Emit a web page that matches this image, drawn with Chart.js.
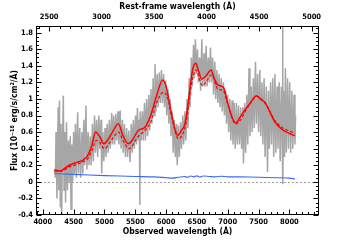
<!DOCTYPE html>
<html><head><meta charset="utf-8">
<script src="https://cdn.jsdelivr.net/npm/chart.js@4"></script>
<style>html,body{margin:0;padding:0;background:#fff}canvas{display:block}</style>
</head><body>
<canvas id="c" width="355" height="240"></canvas>
<script>
// ---- data ----
const obsTicks = [4000,4500,5000,5500,6000,6500,7000,7500,8000];
const restTicks = [2500,3000,3500,4000,4500,5000];
const fluxTicks = [-0.4,-0.2,0,0.2,0.4,0.6,0.8,1,1.2,1.4,1.6,1.8];
const fluxTickLabels = ['-0.4','-0.2','0','0.2','0.4','0.6','0.8','1','1.2','1.4','1.6','1.8'];

const grayWave = [4190,4205,4215,4230,4250,4260,4270,4285,4295,4307,4320,4333,4345,4358,4370,4385,4400,4415,4430,4445,4458,4472,4485,4500,4515,4530,4545,4566,4580,4600,4615,4635,4650,4665,4680,4700,4715,4735,4750,4770,4785,4805,4820,4840,4855,4875,4890,4910,4925,4945,4955,4975,4990,5010,5025,5045,5060,5080,5095,5118,5130,5150,5165,5185,5200,5220,5235,5255,5270,5290,5305,5325,5340,5360,5375,5395,5415,5435,5450,5470,5485,5505,5520,5535,5550,5565,5575,5580,5595,5615,5630,5650,5665,5685,5700,5720,5735,5755,5770,5790,5805,5820,5835,5855,5870,5890,5905,5925,5940,5960,5975,5995,6010,6030,6045,6065,6080,6100,6115,6135,6150,6170,6180,6200,6215,6235,6250,6270,6285,6305,6320,6340,6355,6375,6390,6410,6425,6445,6460,6475,6490,6510,6525,6545,6560,6580,6595,6615,6630,6650,6665,6685,6700,6720,6735,6755,6770,6790,6805,6825,6840,6860,6875,6895,6910,6930,6945,6965,6980,7000,7015,7035,7050,7070,7085,7105,7120,7140,7155,7175,7190,7210,7225,7245,7255,7275,7290,7310,7325,7345,7360,7380,7395,7415,7430,7450,7465,7485,7500,7520,7535,7555,7570,7590,7605,7625,7645,7660,7675,7695,7710,7730,7745,7765,7780,7800,7815,7835,7850,7870,7885,7890,7895,7905,7920,7935,7950,7970,7985,8005,8020,8040,8055,8075,8090,8100];
const grayFlux = [0.15,0.05,0.6,-0.2,0.9,-0.1,0.98,-0.3,0.7,-0.39,0.5,1.04,-0.1,0.6,-0.25,0.72,-0.1,0.5,0.0,0.55,-0.33,0.45,0.0,0.6,0.1,0.7,0.05,0.84,0.1,0.65,0.05,0.6,0.1,0.75,0.2,0.92,0.15,0.6,0.2,0.55,0.2,0.7,0.25,0.8,0.35,0.75,0.3,0.8,0.4,0.75,0.1,0.6,0.25,0.65,0.3,0.7,0.35,0.75,0.4,0.83,0.45,0.8,0.45,0.82,0.5,0.85,0.45,0.86,0.4,0.75,0.35,0.7,0.3,0.65,0.3,0.62,0.24,0.7,0.35,0.75,0.4,0.8,0.45,0.89,0.5,0.75,-0.28,0.85,0.5,0.85,0.5,0.95,0.5,1.0,0.55,1.05,0.62,1.12,0.7,1.25,0.8,1.42,0.85,1.3,0.9,1.32,0.95,1.35,0.95,1.3,0.9,1.22,0.8,1.12,0.7,1.0,0.55,0.85,0.35,0.75,0.3,0.7,0.2,0.68,0.3,0.72,0.4,0.8,0.45,0.85,0.5,1.0,0.65,1.25,0.9,1.5,1.15,1.65,1.25,1.72,1.3,1.6,1.2,1.5,1.1,1.72,1.15,1.55,1.15,1.64,1.15,1.5,1.2,1.62,1.2,1.5,1.05,1.45,1.0,1.35,0.95,1.3,0.9,1.25,0.85,1.2,0.8,1.1,0.7,1.05,0.6,1.0,0.5,0.98,0.45,0.95,0.4,0.95,0.45,0.92,0.45,0.9,0.4,0.9,0.22,0.95,0.35,1.05,0.45,1.37,0.55,1.15,0.6,1.25,0.65,1.45,0.7,1.3,0.6,1.35,0.55,1.2,0.45,1.25,0.3,1.15,0.12,1.1,0.4,1.2,0.45,1.25,0.3,1.3,0.35,1.15,0.4,1.2,0.25,1.15,0.35,1.95,-0.03,1.1,0.3,1.37,0.35,1.25,0.4,1.2,0.35,1.1,0.4,1.05,0.45,0.8];

const fitWave = [4190,4250,4300,4350,4430,4550,4650,4730,4800,4855,4920,4990,5050,5130,5225,5300,5387,5450,5549,5658,5750,5850,5945,6000,6080,6150,6185,6250,6306,6340,6387,6430,6480,6530,6577,6650,6728,6780,6837,6928,7000,7070,7129,7200,7280,7360,7469,7540,7604,7685,7766,7875,7980,8090];
const fitFlux = [0.145,0.135,0.135,0.16,0.2,0.235,0.26,0.32,0.45,0.60,0.55,0.46,0.5,0.6,0.70,0.56,0.46,0.5,0.62,0.66,0.8,1.05,1.23,1.15,0.85,0.62,0.56,0.62,0.70,0.85,1.125,1.35,1.43,1.33,1.24,1.28,1.35,1.25,1.17,1.14,0.95,0.78,0.71,0.78,0.87,0.945,1.04,0.99,0.957,0.84,0.72,0.635,0.59,0.555];

const modelWave = [4190,4300,4430,4650,4730,4800,4870,4920,4998,5130,5230,5300,5400,5549,5658,5750,5850,5960,6030,6100,6200,6306,6340,6387,6430,6490,6530,6590,6660,6740,6837,6928,7000,7129,7360,7469,7604,7766,7875,7980,8090];
const modelFlux = [0.13,0.13,0.18,0.24,0.28,0.38,0.50,0.48,0.40,0.52,0.60,0.50,0.40,0.55,0.62,0.72,0.96,1.08,1.0,0.75,0.52,0.65,0.78,1.05,1.25,1.35,1.26,1.16,1.22,1.29,1.12,1.1,0.93,0.70,0.94,1.03,0.95,0.74,0.66,0.62,0.585];

const errWave = [4190,4500,5000,5500,5800,6000,6100,6200,6300,6350,6400,6450,6500,6550,6600,6700,6800,6900,7000,7200,7500,7800,8000,8090];
const errFlux = [0.10,0.09,0.075,0.065,0.06,0.05,0.045,0.055,0.065,0.055,0.07,0.06,0.072,0.058,0.07,0.065,0.06,0.068,0.06,0.06,0.055,0.05,0.045,0.035];

const obsRange = [3890, 8480];
const restRange = [2375, 5070];
const fluxRange = [-0.4, 1.88];

const pts = (w,f) => w.map((x,i)=>({x, y:f[i]}));

const FONT = "'Liberation Sans Narrow','DejaVu Sans Condensed','Liberation Sans',sans-serif";

const frame = {
  id:'frame',
  beforeDatasetsDraw(chart){
    const {ctx, chartArea:a, scales:{y}} = chart;
    const y0 = Math.round(y.getPixelForValue(0))+0.5;
    ctx.save();
    ctx.strokeStyle='#a0a0a0'; ctx.lineWidth=1; ctx.setLineDash([2,2]);
    ctx.beginPath(); ctx.moveTo(a.left,y0); ctx.lineTo(a.right,y0); ctx.stroke();
    ctx.restore();
  },
  afterDatasetsDraw(chart){
    const {ctx, chartArea:a, scales:{x,x2,y}} = chart;
    ctx.save();
    ctx.strokeStyle='#000'; ctx.lineWidth=1;
    const L=Math.round(a.left)+0.5, R=Math.round(a.right)-0.5, T=Math.round(a.top)+0.5, B=Math.round(a.bottom)-0.5;
    ctx.strokeRect(L,T,R-L,B-T);
    ctx.beginPath();
    const vt=(px,len)=>{px=Math.round(px)+0.5; ctx.moveTo(px,B); ctx.lineTo(px,B-len);};
    const vtTop=(px,len)=>{px=Math.round(px)+0.5; ctx.moveTo(px,T); ctx.lineTo(px,T+len);};
    const ht=(py,len)=>{py=Math.round(py)+0.5; ctx.moveTo(L,py); ctx.lineTo(L+len,py); ctx.moveTo(R,py); ctx.lineTo(R-len,py);};
    for(let v=3900; v<=8480; v+=100){ vt(x.getPixelForValue(v), v%500===0?5:2.5); }
    for(let v=2400; v<=5070; v+=100){ vtTop(x2.getPixelForValue(v), v%500===0?5:2.5); }
    for(let k=-8; k<=37; k++){ const v=k*0.05; ht(y.getPixelForValue(v), k%4===0?5:2.5); }
    ctx.stroke();
    ctx.restore();
  }
};

new Chart(document.getElementById('c'), {
  type:'line',
  data:{datasets:[
    {data:pts(fitWave,fitFlux), borderColor:'#ff0000', borderWidth:1.5, pointRadius:0, cubicInterpolationMode:'monotone', order:1},
    {data:pts(modelWave,modelFlux), borderColor:'#ff0000', borderWidth:1.2, borderDash:[3,2], pointRadius:0, cubicInterpolationMode:'monotone', order:2},
    {data:pts(errWave,errFlux), borderColor:'#3a6cf0', borderWidth:1.1, pointRadius:0, tension:0.3, order:3},
    {data:pts(grayWave,grayFlux), borderColor:'#a6a6a6', borderWidth:1.5, pointRadius:0, tension:0, order:4}
  ]},
  options:{
    responsive:false, animation:false, devicePixelRatio:1,
    layout:{padding:{left:0,right:36,top:0,bottom:0}},
    plugins:{legend:{display:false}, tooltip:{enabled:false}},
    scales:{
      x:{type:'linear', position:'bottom', min:obsRange[0], max:obsRange[1],
        grid:{display:false, drawTicks:false}, border:{display:false},
        afterBuildTicks:s=>{s.ticks=obsTicks.map(v=>({value:v}));},
        afterFit:s=>{s.height=25;},
        ticks:{font:{family:FONT,size:7.5,weight:'bold'}, color:'#000', padding:3, maxRotation:0, callback:v=>String(v)},
        title:{display:true, text:'Observed wavelength (Å)', font:{family:FONT,size:8.5,weight:'bold'}, color:'#000', padding:{top:0,bottom:3}}
      },
      x2:{type:'linear', position:'top', min:restRange[0], max:restRange[1],
        grid:{display:false, drawTicks:false}, border:{display:false},
        afterBuildTicks:s=>{s.ticks=restTicks.map(v=>({value:v}));},
        afterFit:s=>{s.height=26;},
        ticks:{font:{family:FONT,size:7.5,weight:'bold'}, color:'#000', padding:4, maxRotation:0, callback:v=>String(v)},
        title:{display:true, text:'Rest-frame wavelength (Å)', font:{family:FONT,size:8.5,weight:'bold'}, color:'#000', padding:{top:2,bottom:0}}
      },
      y:{type:'linear', position:'left', min:fluxRange[0], max:fluxRange[1],
        grid:{display:false, drawTicks:false}, border:{display:false},
        afterBuildTicks:s=>{s.ticks=fluxTicks.map(v=>({value:v}));},
        afterFit:s=>{s.width=36;},
        ticks:{font:{family:FONT,size:7.5,weight:'bold'}, color:'#000', padding:3,
          callback:(v)=>{const i=fluxTicks.findIndex(t=>Math.abs(t-v)<1e-6); return i>=0?fluxTickLabels[i]:'';}},
        title:{display:true, text:'Flux (10⁻¹⁸ erg/s/cm²/Å)', font:{family:FONT,size:8.5,weight:'bold'}, color:'#000', padding:{top:10,bottom:0}}
      }
    }
  },
  plugins:[frame]
});
</script>
</body></html>
